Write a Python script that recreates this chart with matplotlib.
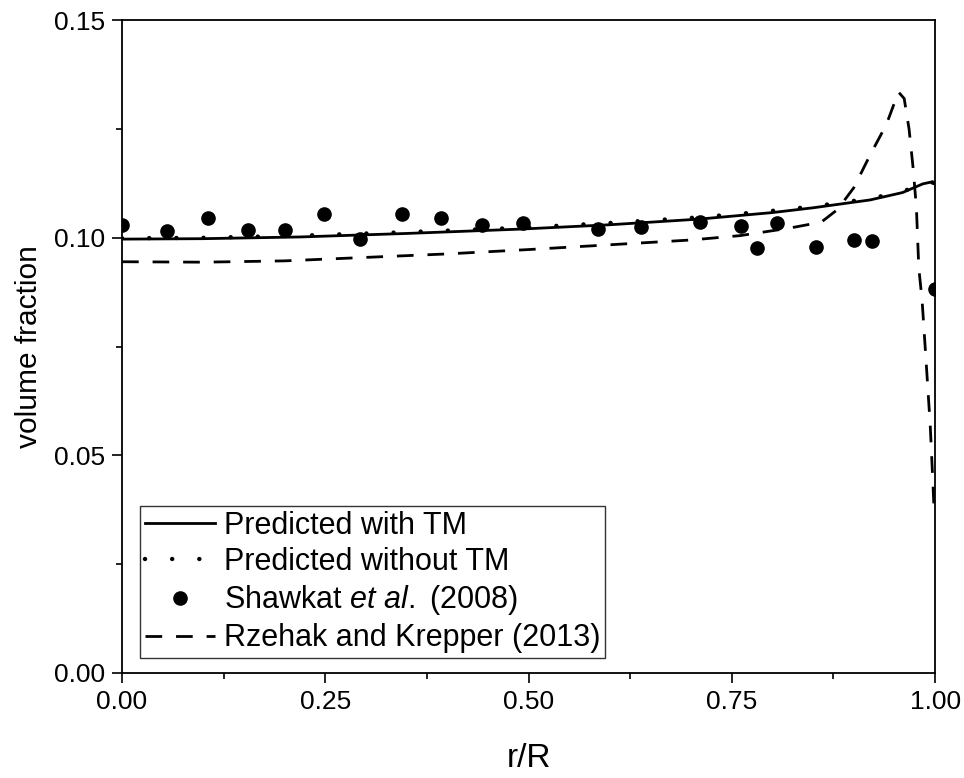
import matplotlib
matplotlib.use('Agg')
import matplotlib.pyplot as plt
from matplotlib.ticker import MultipleLocator

# radial profiles of gas volume fraction
r_tm = [0.0, 0.1, 0.22, 0.35, 0.49, 0.6, 0.71, 0.8, 0.85, 0.92, 0.96, 0.985, 0.995, 1.0]
v_tm = [0.0997, 0.0998, 0.1002, 0.1010, 0.1020, 0.1030, 0.1043, 0.1058, 0.1069, 0.1087,
        0.1104, 0.1124, 0.1128, 0.1123]

r_no = [0.0, 0.1, 0.22, 0.35, 0.49, 0.6, 0.71, 0.8, 0.85, 0.92, 0.96, 0.985, 0.995, 1.0]
v_no = [0.0999, 0.1000, 0.1005, 0.1013, 0.1023, 0.1034, 0.1047, 0.1062, 0.1072, 0.1090,
        0.1106, 0.1125, 0.1129, 0.1124]

# Shawkat et al. (2008) measurements
r_exp = [0.0, 0.055, 0.106, 0.155, 0.200, 0.248, 0.293, 0.344, 0.392, 0.443, 0.493,
         0.586, 0.638, 0.711, 0.761, 0.781, 0.806, 0.854, 0.900, 0.922, 1.0]
v_exp = [0.1030, 0.1016, 0.1046, 0.1018, 0.1018, 0.1055, 0.0998, 0.1055, 0.1046, 0.1030,
         0.1034, 0.1021, 0.1025, 0.1037, 0.1028, 0.0977, 0.1034, 0.0979, 0.0995, 0.0993,
         0.0883]

# Rzehak and Krepper (2013)
r_rk = [0.0, 0.1, 0.2, 0.3, 0.4, 0.5, 0.6, 0.7, 0.76, 0.82, 0.86, 0.88, 0.9, 0.92, 0.94,
        0.955, 0.962, 0.968, 0.973, 0.977, 0.98, 0.984, 0.989, 0.994, 0.9975, 0.999]
v_rk = [0.0945, 0.0944, 0.0947, 0.0955, 0.0963, 0.0973, 0.0984, 0.0995, 0.1005, 0.1022,
        0.1036, 0.1065, 0.1115, 0.1190, 0.1260, 0.1335, 0.1320, 0.1250, 0.1160, 0.1070,
        0.0930, 0.0857, 0.0715, 0.0570, 0.0430, 0.0362]

xticks = [0.0, 0.25, 0.5, 0.75, 1.0]
yticks = [0.0, 0.05, 0.10, 0.15]

plt.rcParams['font.family'] = ['Liberation Sans', 'DejaVu Sans']
plt.rcParams['mathtext.fontset'] = 'custom'
plt.rcParams['mathtext.rm'] = 'Liberation Sans'
plt.rcParams['mathtext.it'] = 'Liberation Sans:italic'

fig = plt.figure(figsize=(9.64, 7.78), dpi=100)
ax = fig.add_axes([0.1266, 0.135, 0.8434, 0.839])

ax.plot(r_tm, v_tm, color='black', lw=2.0, label='Predicted with TM')
ax.plot(r_no, v_no, color='black', lw=3.2, linestyle=(0, (0.01, 6.1)),
        dash_capstyle='round', label='Predicted without TM')
ax.plot(r_exp, v_exp, 'o', color='black', markersize=9.5,
        label='Shawkat $\\it{et\\ al.}$ (2008)')
ax.plot(r_rk, v_rk, color='black', lw=2.0, linestyle=(0, (6, 5)),
        label='Rzehak and Krepper (2013)')

ax.set_xlim(0, 1)
ax.set_ylim(0, 0.15)
ax.set_xticks(xticks)
ax.set_yticks(yticks)
ax.set_xticklabels(['%.2f' % t for t in xticks])
ax.set_yticklabels(['%.2f' % t for t in yticks])
ax.xaxis.set_minor_locator(MultipleLocator(0.125))
ax.yaxis.set_minor_locator(MultipleLocator(0.025))
ax.tick_params(which='major', direction='out', length=7, width=1.2, labelsize=19, pad=5)
ax.tick_params(which='minor', direction='out', length=4, width=1.2)

for s in ax.spines.values():
    s.set_linewidth(1.3)

ax.set_xlabel('r/R', fontsize=24, labelpad=21)
ax.set_ylabel('volume fraction', fontsize=21.5, labelpad=8)

leg = ax.legend(loc='lower left', bbox_to_anchor=(0.022, 0.023), borderaxespad=0,
                fontsize=22, frameon=True, fancybox=False, edgecolor='black',
                handlelength=2.3, handletextpad=0.3, labelspacing=0.2, borderpad=0.15,
                numpoints=1)
leg.get_frame().set_linewidth(1.0)

fig.savefig('out.png', dpi=100)
